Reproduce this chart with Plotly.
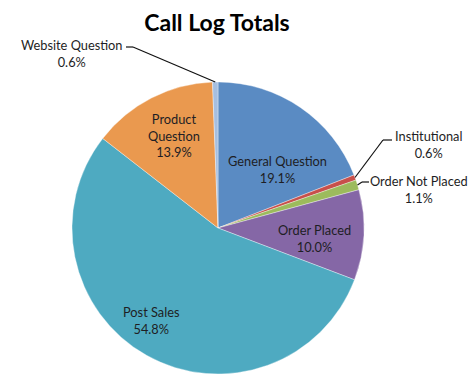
import math
import plotly.graph_objects as go

categories = ["General Question", "Institutional", "Order Not Placed", "Order Placed",
              "Post Sales", "Product Question", "Website Question"]
values = [19.1, 0.6, 1.1, 10.0, 54.8, 13.9, 0.6]
colors = ["#5a8bc3", "#c8504b", "#9cbb5c", "#8567a6", "#4eaac1", "#ea994f", "#a6bfe0"]
display_names = ["General Question", "Institutional", "Order Not Placed", "Order Placed",
                 "Post Sales", "Product<br>Question", "Website Question"]

W, H = 474, 391
cx, cy, r = 218, 228, 146

fig = go.Figure(go.Pie(
    labels=categories, values=values, sort=False, direction="clockwise", rotation=0,
    marker=dict(colors=colors, line=dict(color="rgba(255,255,255,0.6)", width=0.6)),
    textinfo="none", hoverinfo="label+percent", showlegend=False,
    domain=dict(x=[(cx - r) / W, (cx + r) / W], y=[1 - (cy + r) / H, 1 - (cy - r) / H]),
))

total = sum(values)
cum = 0
mids = {}
for c, v in zip(categories, values):
    mids[c] = (cum + v / 2) / total * 2 * math.pi
    cum += v

def px(x, y):
    return x / W, 1 - y / H

# label anchor (pixel centre of the text block) and leader line points
label_layout = {
    "General Question": ((277, 169), None),
    "Order Placed": ((314, 238), None),
    "Post Sales": ((151, 320), None),
    "Product Question": ((174, 135), None),
    "Website Question": ((72, 54), [(126, 47), (133, 47)]),
    "Institutional": ((428, 144), [(392, 140), (383, 140)]),
    "Order Not Placed": ((419, 190), [(369, 182), (362, 182)]),
}

shapes = []
annotations = []
for c, name, v in zip(categories, display_names, values):
    (tx, ty), pts = label_layout[c]
    if pts:
        a = mids[c]
        tipx, tipy = cx + r * math.sin(a), cy - r * math.cos(a)
        path_pts = pts + [(tipx, tipy)]
        for (x0, y0), (x1, y1) in zip(path_pts[:-1], path_pts[1:]):
            X0, Y0 = px(x0, y0)
            X1, Y1 = px(x1, y1)
            shapes.append(dict(type="line", xref="paper", yref="paper", x0=X0, y0=Y0, x1=X1, y1=Y1,
                               line=dict(color="#111111", width=1.2)))
    X, Y = px(tx, ty)
    annotations.append(dict(text=f"{name}<br>{v:.1f}%", x=X, y=Y, xref="paper", yref="paper",
                            showarrow=False, xanchor="center", yanchor="middle",
                            font=dict(family="Lato", size=12.8, color="#1e1e24")))

fig.update_layout(
    width=W, height=H, margin=dict(l=0, r=0, t=0, b=0),
    paper_bgcolor="white", plot_bgcolor="white",
    title=dict(text="<b>Call Log Totals</b>", x=217 / W, xanchor="center", y=1 - 23 / H, yanchor="middle",
               font=dict(family="Lato", size=23, color="#000000")),
    shapes=shapes, annotations=annotations,
)
fig.write_html("out.html", config={"displayModeBar": False},
               post_script="document.body.style.margin='0';")
